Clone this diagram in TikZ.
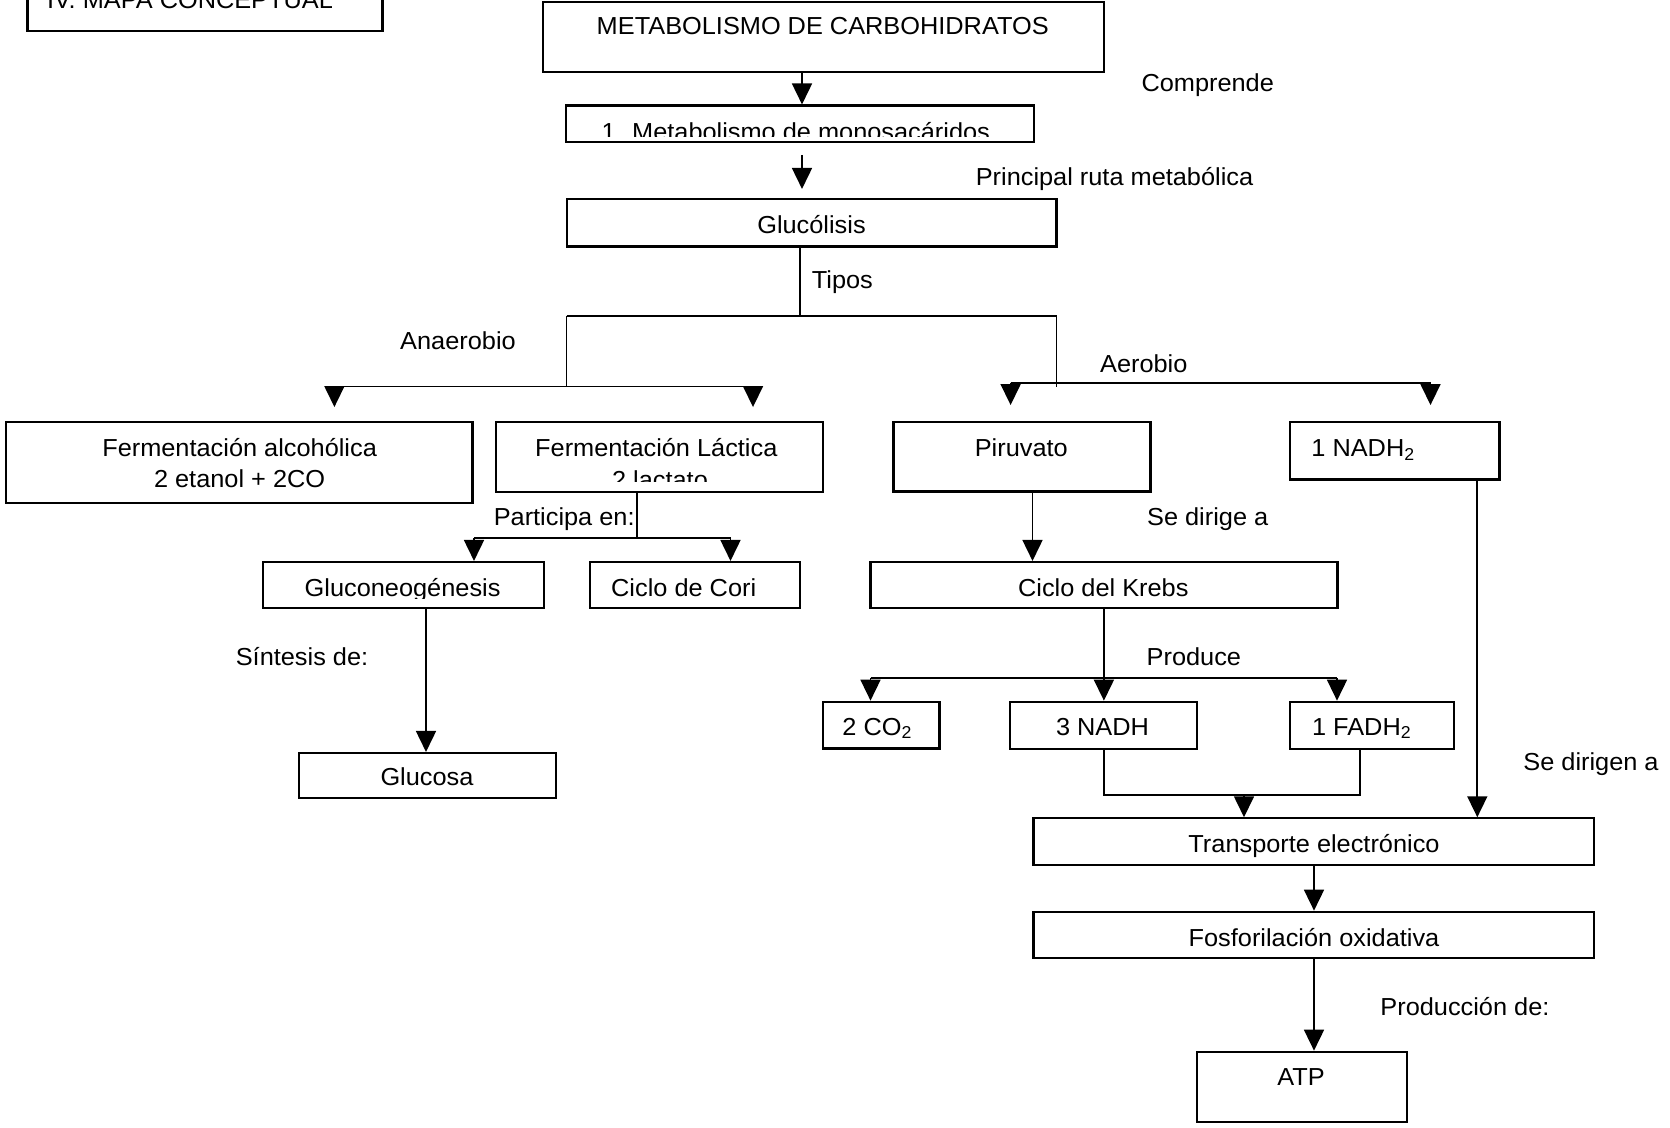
\documentclass[tikz,border=0pt]{standalone}
\usepackage{fontspec}
\setmainfont{Liberation Sans}
\usetikzlibrary{arrows.meta,fit}

% text label: optional anchor, name, position, text (slightly widened glyphs)
\newcommand{\lab}[4][base]{\node[txt,anchor=#1] (#2) at (#3) {\scalebox{1.03}[1]{#4}};}

\begin{document}
\begin{tikzpicture}[x=0.5pt,y=-0.5pt,
  box/.style={draw, line width=1.05pt, inner sep=0pt, rectangle},
  txt/.style={inner sep=0pt, font=\fontsize{12.3}{14.5}\selectfont},
  wire/.style={line width=0.85pt},
  arr/.style={wire, -{Triangle[length=10.5pt,width=10pt]}},
]
\clip (0,0) rectangle (1670,1128);
\fill[white] (0,0) rectangle (1670,1128);

% ---------- boxes ----------
\node[box, fit={(27.5,-20) (382.5,30.8)}] (mapa) {};
\node[box, fit={(543,2) (1104,71.7)}] (met) {};
\node[box, fit={(566,105.5) (1034,142)}] (mono) {};
\node[box, fit={(566.6,199) (1056.5,246.5)}] (gluc) {};
\node[box, fit={(6,421.7) (472.5,503)}] (falc) {};
\node[box, fit={(496,421.7) (823.3,491.7)}] (flac) {};
\node[box, fit={(893.5,421.7) (1150.5,491.5)}] (piru) {};
\node[box, fit={(1289.7,421.7) (1499.5,479.5)}] (nadhone) {};
\node[box, fit={(263,562) (544,608.3)}] (gneo) {};
\node[box, fit={(590,562) (800,608.3)}] (cori) {};
\node[box, fit={(870.5,562) (1337.5,608.3)}] (krebs) {};
\node[box, fit={(299,753) (556,797.7)}] (glucosa) {};
\node[box, fit={(823.3,701.7) (939.5,748.5)}] (co) {};
\node[box, fit={(1010,701.7) (1197.3,749)}] (nadhthree) {};
\node[box, fit={(1290,701.7) (1454,749)}] (fadh) {};
\node[box, fit={(1033.5,818.3) (1594,865)}] (trans) {};
\node[box, fit={(1033.5,911.7) (1594,958.3)}] (fosf) {};
\node[box, fit={(1196.6,1051.7) (1406.8,1121.7)}] (atp) {};

% ---------- texts ----------
\lab[base west]{tmapa}{46.7,8.3}{IV. MAPA CONCEPTUAL}
\lab{tmet}{822.7,35}{METABOLISMO DE CARBOHIDRATOS}
\lab{tcomp}{1207.7,92}{Comprende}
\begin{scope}
  \clip (566,105.5) rectangle (1034,136.5);
  \lab{tmono}{795.8,140.5}{1. Metabolismo de monosacáridos}
\end{scope}
\lab{tprin}{1114.5,186}{Principal ruta metabólica}
\lab{tgluc}{811.5,234}{Glucólisis}
\lab{ttipos}{842.4,289}{Tipos}
\lab{tana}{458,349.5}{Anaerobio}
\lab{taer}{1143.8,372.5}{Aerobio}
\lab{tfalca}{239.6,457}{Fermentación alcohólica}
\lab{tfalcb}{239.6,487.5}{2 etanol + 2CO}
\lab{tflaca}{656.3,457}{Fermentación Láctica}
\begin{scope}
  \clip (496,421.7) rectangle (823.3,481.7);
  \lab{tflacb}{660,488.8}{2 lactato}
\end{scope}
\lab{tpiru}{1021.3,457}{Piruvato}
\lab[base west]{tnadhone}{1311,457}{1 NADH\textsubscript{2}}
\lab[base east]{tpart}{635,525}{Participa en:}
\lab{tdir}{1207.7,525}{Se dirige a}
\begin{scope}
  \clip (263,562) rectangle (544,598.3);
  \lab{tgneo}{402.6,596}{Gluconeogénesis}
\end{scope}
\lab{tcori}{683.7,596}{Ciclo de Cori}
\lab{tkrebs}{1103.3,596}{Ciclo del Krebs}
\lab{tsint}{302,665.5}{Síntesis de:}
\lab{tprod}{1193.9,665.5}{Produce}
\lab{tglucosa}{427,785}{Glucosa}
\lab[base west]{tco}{842,735}{2 CO\textsubscript{2}}
\lab{tnadhthree}{1102.5,735}{3 NADH}
\lab[base west]{tfadh}{1311.7,735}{1 FADH\textsubscript{2}}
\lab{tdirn}{1591,770.5}{Se dirigen a}
\lab{ttrans}{1314,852.5}{Transporte electrónico}
\lab{tfosf}{1314,946.5}{Fosforilación oxidativa}
\lab[base west]{tproduc}{1380,1015.7}{Producción de:}
\lab{tatp}{1301,1085}{ATP}

% ---------- connectors ----------
\coordinate (xa) at (802,0);
\draw[arr] (xa |- met.south) -- (xa |- mono.north);
\coordinate (a2) at (802,155);
\draw[arr, shorten >=4.5pt] (a2) -- (a2 |- gluc.north);

% split into the two types
\coordinate (tp) at (800,316);
\draw[wire] (tp |- gluc.south) -- (tp);
\coordinate (sl) at (566.6,316);
\coordinate (sr) at (1056.5,316);
\draw[wire] (sl) -- (sr);

% anaerobic branch
\coordinate (al) at (566.6,386.5);
\draw[wire] (sl) -- (al);
\coordinate (ala) at (334.4,386.5);
\coordinate (alb) at (753,386.5);
\draw[wire] (ala) -- (alb);
\draw[arr, shorten >=6.8pt] (ala) -- (ala |- falc.north);
\draw[arr, shorten >=6.8pt] (alb) -- (alb |- flac.north);

% aerobic branch
\coordinate (ar) at (1056.5,386.7);
\draw[wire] (sr) -- (ar);
\coordinate (ara) at (1010.6,382.7);
\coordinate (arb) at (1430.5,382.7);
\draw[wire] (ara) -- (arb);
\draw[arr, shorten >=7.8pt] (ara) -- (ara |- piru.north);
\draw[arr, shorten >=7.8pt] (arb) -- (arb |- nadhone.north);

% lactate participates in
\coordinate (lp) at (636.7,537.7);
\draw[wire] (lp |- flac.south) -- (lp);
\coordinate (lpa) at (474,537.7);
\coordinate (lpb) at (730.5,537.7);
\draw[wire] (lpa) -- (lpb);
\draw[arr] (lpa) -- (lpa |- gneo.north);
\draw[arr] (lpb) -- (lpb |- cori.north);

% gluconeogenesis to glucose
\coordinate (xg) at (426,0);
\draw[arr] (xg |- gneo.south) -- (xg |- glucosa.north);

% pyruvate to Krebs
\coordinate (xp) at (1032.5,0);
\draw[arr] (xp |- piru.south) -- (xp |- krebs.north);

% Krebs products
\coordinate (kp) at (1103.9,678);
\draw[wire] (kp |- krebs.south) -- (kp);
\coordinate (kpa) at (870.5,678);
\coordinate (kpb) at (1337,678);
\draw[wire] (kpa) -- (kpb);
\draw[arr] (kpa) -- (kpa |- co.north);
\draw[arr] (kp) -- (kp |- nadhthree.north);
\draw[arr] (kpb) -- (kpb |- fadh.north);

% reduced coenzymes to electron transport
\coordinate (ma) at (1104,795);
\coordinate (mb) at (1360,795);
\coordinate (mj) at (1244,795);
\draw[wire] (ma |- nadhthree.south) -- (ma) -- (mb) -- (mb |- fadh.south);
\draw[arr] (mj) -- (mj |- trans.north);
\coordinate (xn) at (1477.3,0);
\draw[arr] (xn |- nadhone.south) -- (xn |- trans.north);

% transport, phosphorylation, ATP
\coordinate (xf) at (1314,0);
\draw[arr] (xf |- trans.south) -- (xf |- fosf.north);
\draw[arr] (xf |- fosf.south) -- (xf |- atp.north);
\end{tikzpicture}
\end{document}
